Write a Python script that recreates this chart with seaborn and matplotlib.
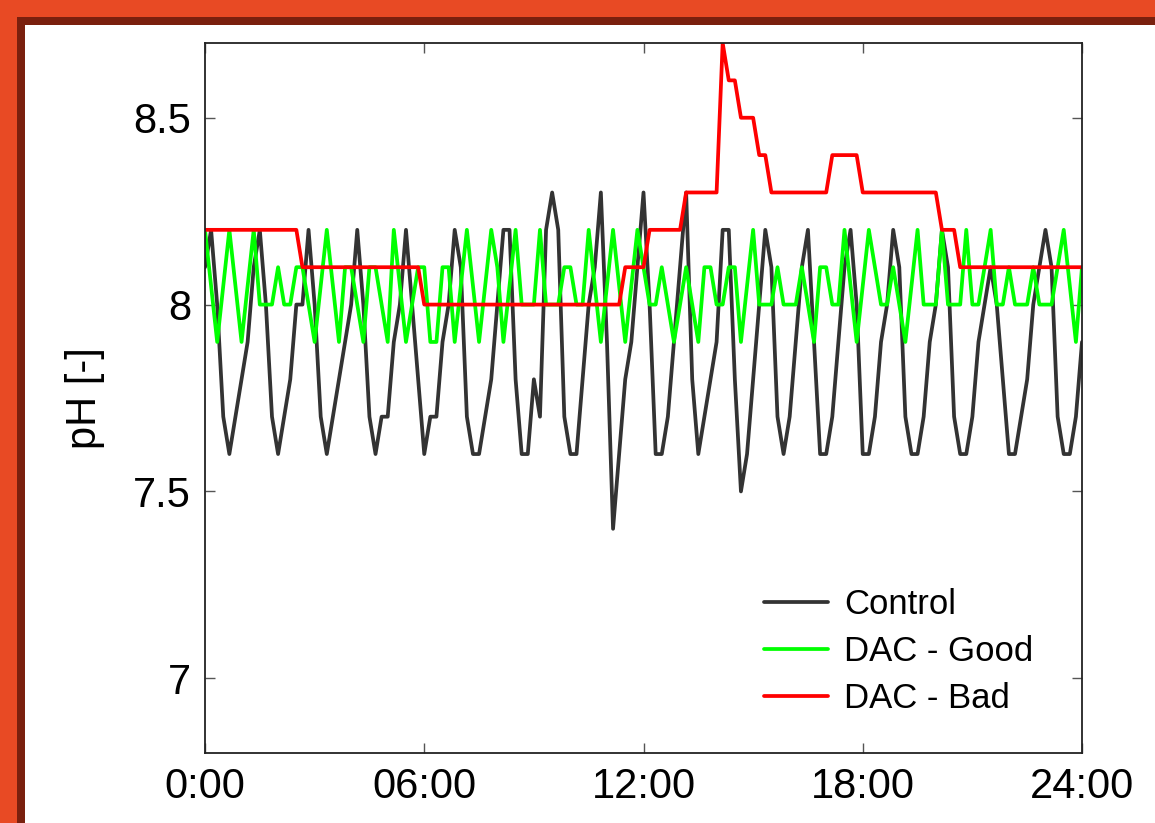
import numpy as np
import pandas as pd
import matplotlib
matplotlib.use("Agg")
import matplotlib.pyplot as plt
from matplotlib.patches import Rectangle
import seaborn as sns

# ---- data (10-minute samples over 24 h) ----
step_minutes = 10

control = [8.1, 8.2, 8.0, 7.7, 7.6, 7.7, 7.8, 7.9, 8.1, 8.2,
           8.0, 7.7, 7.6, 7.7, 7.8, 8.0, 8.0, 8.2, 8.0, 7.7,
           7.6, 7.7, 7.8, 7.9, 8.0, 8.2, 8.0, 7.7, 7.6, 7.7,
           7.7, 7.9, 8.0, 8.2, 8.0, 7.8, 7.6, 7.7, 7.7, 7.9,
           8.0, 8.2, 8.1, 7.7, 7.6, 7.6, 7.7, 7.8, 8.0, 8.2,
           8.2, 7.8, 7.6, 7.6, 7.8, 7.7, 8.2, 8.3, 8.2, 7.7,
           7.6, 7.6, 7.8, 8.0, 8.1, 8.3, 7.9, 7.4, 7.6, 7.8,
           7.9, 8.1, 8.3, 8.0, 7.6, 7.6, 7.7, 7.9, 8.1, 8.3,
           7.8, 7.6, 7.7, 7.8, 7.9, 8.2, 8.2, 7.8, 7.5, 7.6,
           7.8, 8.0, 8.2, 8.1, 7.7, 7.6, 7.7, 7.9, 8.1, 8.2,
           7.9, 7.6, 7.6, 7.7, 7.9, 8.1, 8.2, 8.0, 7.6, 7.6,
           7.7, 7.9, 8.0, 8.2, 8.1, 7.7, 7.6, 7.6, 7.7, 7.9,
           8.0, 8.2, 8.1, 7.7, 7.6, 7.6, 7.7, 7.9, 8.0, 8.1,
           8.0, 7.8, 7.6, 7.6, 7.7, 7.8, 8.0, 8.1, 8.2, 8.1,
           7.7, 7.6, 7.6, 7.7, 7.9]

dac_good = [8.2, 8.05, 7.9, 8.05, 8.2, 8.05, 7.9, 8.05, 8.2, 8.0,
            8.0, 8.0, 8.1, 8.0, 8.0, 8.1, 8.1, 8.0, 7.9, 8.05,
            8.2, 8.05, 7.9, 8.1, 8.1, 8.0, 7.9, 8.1, 8.1, 8.0,
            7.9, 8.2, 8.05, 7.9, 8.0, 8.1, 8.1, 7.9, 7.9, 8.1,
            8.1, 7.9, 8.05, 8.2, 8.05, 7.9, 8.05, 8.2, 8.1, 7.9,
            8.05, 8.2, 8.0, 8.0, 8.0, 8.2, 8.0, 8.0, 8.0, 8.1,
            8.1, 8.0, 8.0, 8.2, 8.05, 7.9, 8.05, 8.2, 8.05, 7.9,
            8.05, 8.2, 8.1, 8.0, 8.0, 8.1, 8.0, 7.9, 8.0, 8.1,
            8.0, 7.9, 8.1, 8.1, 8.0, 8.0, 8.1, 8.1, 7.9, 8.05,
            8.2, 8.0, 8.0, 8.0, 8.1, 8.0, 8.0, 8.0, 8.1, 8.0,
            7.9, 8.1, 8.1, 8.0, 8.0, 8.2, 8.05, 7.9, 8.05, 8.2,
            8.1, 8.0, 8.0, 8.1, 8.0, 7.9, 8.05, 8.2, 8.0, 8.0,
            8.0, 8.2, 8.0, 8.0, 8.0, 8.2, 8.0, 8.0, 8.1, 8.2,
            8.0, 8.0, 8.1, 8.0, 8.0, 8.0, 8.1, 8.0, 8.0, 8.0,
            8.1, 8.2, 8.05, 7.9, 8.1]

dac_bad = [8.2, 8.2, 8.2, 8.2, 8.2, 8.2, 8.2, 8.2, 8.2, 8.2,
           8.2, 8.2, 8.2, 8.2, 8.2, 8.2, 8.1, 8.1, 8.1, 8.1,
           8.1, 8.1, 8.1, 8.1, 8.1, 8.1, 8.1, 8.1, 8.1, 8.1,
           8.1, 8.1, 8.1, 8.1, 8.1, 8.1, 8.0, 8.0, 8.0, 8.0,
           8.0, 8.0, 8.0, 8.0, 8.0, 8.0, 8.0, 8.0, 8.0, 8.0,
           8.0, 8.0, 8.0, 8.0, 8.0, 8.0, 8.0, 8.0, 8.0, 8.0,
           8.0, 8.0, 8.0, 8.0, 8.0, 8.0, 8.0, 8.0, 8.0, 8.1,
           8.1, 8.1, 8.1, 8.2, 8.2, 8.2, 8.2, 8.2, 8.2, 8.3,
           8.3, 8.3, 8.3, 8.3, 8.3, 8.7, 8.6, 8.6, 8.5, 8.5,
           8.5, 8.4, 8.4, 8.3, 8.3, 8.3, 8.3, 8.3, 8.3, 8.3,
           8.3, 8.3, 8.3, 8.4, 8.4, 8.4, 8.4, 8.4, 8.3, 8.3,
           8.3, 8.3, 8.3, 8.3, 8.3, 8.3, 8.3, 8.3, 8.3, 8.3,
           8.3, 8.2, 8.2, 8.2, 8.1, 8.1, 8.1, 8.1, 8.1, 8.1,
           8.1, 8.1, 8.1, 8.1, 8.1, 8.1, 8.1, 8.1, 8.1, 8.1,
           8.1, 8.1, 8.1, 8.1, 8.1]

series_names = ["Control", "DAC - Good", "DAC - Bad"]
series_colors = ["#333333", "#00ff00", "#ff0000"]
x_ticks = [0, 6, 12, 18, 24]
x_tick_labels = ["0:00", "06:00", "12:00", "18:00", "24:00"]
y_ticks = [7.0, 7.5, 8.0, 8.5]
y_tick_labels = ["7", "7.5", "8", "8.5"]

hours = np.arange(len(control)) * step_minutes / 60.0
df = pd.concat([
    pd.DataFrame({"t": hours, "pH": vals, "series": name})
    for name, vals in zip(series_names, [control, dac_good, dac_bad])
], ignore_index=True)

# ---- style ----
sns.set_style("white")
plt.rcParams["font.family"] = ["Liberation Sans", "DejaVu Sans"]
plt.rcParams["text.color"] = "black"
plt.rcParams["axes.labelcolor"] = "black"

W, H = 1155, 823
fig = plt.figure(figsize=(W / 100, H / 100), dpi=100)
fig.patch.set_facecolor("white")

# slide-like frame
orange = "#e84a24"
dark = "#7a200e"
fig.patches.append(Rectangle((0, 1 - 17 / H), 1, 17 / H, transform=fig.transFigure,
                             facecolor=orange, edgecolor="none", zorder=0))
fig.patches.append(Rectangle((0, 0), 17 / W, 1, transform=fig.transFigure,
                             facecolor=orange, edgecolor="none", zorder=0))
fig.patches.append(Rectangle((17 / W, 1 - 25 / H), 1, 8 / H, transform=fig.transFigure,
                             facecolor=dark, edgecolor="none", zorder=0))
fig.patches.append(Rectangle((17 / W, 0), 8 / W, 1 - 17 / H, transform=fig.transFigure,
                             facecolor=dark, edgecolor="none", zorder=0))

ax = fig.add_axes([205 / W, 1 - 753 / H, (1082 - 205) / W, (753 - 43) / H])
ax.set_facecolor("white")

lw = 2.7
sns.lineplot(data=df, x="t", y="pH", hue="series", hue_order=series_names,
             palette=dict(zip(series_names, series_colors)), linewidth=lw,
             ax=ax, legend=True, estimator=None, sort=False)

ax.set_xlim(0, 24)
ax.set_ylim(6.8, 8.7)
ax.set_xticks(x_ticks)
ax.set_xticklabels(x_tick_labels)
ax.set_yticks(y_ticks)
ax.set_yticklabels(y_tick_labels)
ax.set_xlabel("")
ax.set_ylabel("pH [-]", fontsize=30, labelpad=20, color="black")

ax.tick_params(axis="both", which="major", direction="in", length=7, width=1,
               color="#555555", labelcolor="black", labelsize=30, pad=10,
               top=True, right=True, bottom=True, left=True)
for sp in ax.spines.values():
    sp.set_visible(True)
    sp.set_color("#222222")
    sp.set_linewidth(1.3)

handles, labels = ax.get_legend_handles_labels()
leg = ax.legend(handles, labels, loc="lower right",
                bbox_to_anchor=((1033 - 205) / 877, (753 - 715) / 710),
                frameon=False, fontsize=25, handlelength=1.85,
                handletextpad=0.45, labelspacing=0.4,
                borderpad=0, borderaxespad=0)
for line in leg.get_lines():
    line.set_linewidth(lw)
for txt in leg.get_texts():
    txt.set_color("black")

fig.savefig("out.png", dpi=100, facecolor=fig.get_facecolor())
